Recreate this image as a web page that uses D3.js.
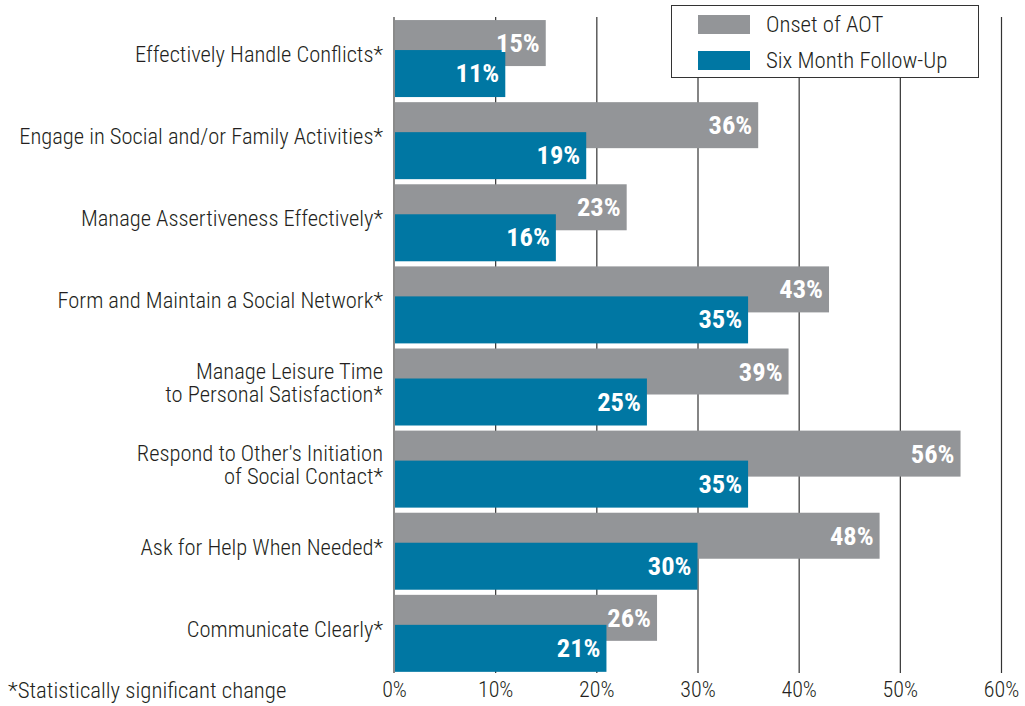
<!DOCTYPE html>
<html><head><meta charset="utf-8">
<script src="https://cdn.jsdelivr.net/npm/d3@7"></script>
<style>
body{margin:0;background:#fff;}
svg text{font-family:"Roboto Condensed","Liberation Sans Narrow","DejaVu Sans Condensed",sans-serif;}
</style></head><body>
<svg id="c" width="1025" height="706"></svg>
<script>
const categories = [
  ["Effectively Handle Conflicts*"],
  ["Engage in Social and/or Family Activities*"],
  ["Manage Assertiveness Effectively*"],
  ["Form and Maintain a Social Network*"],
  ["Manage Leisure Time", "to Personal Satisfaction*"],
  ["Respond to Other's Initiation", "of Social Contact*"],
  ["Ask for Help When Needed*"],
  ["Communicate Clearly*"]
];
const onsetValues = [15, 36, 23, 43, 39, 56, 48, 26];
const followUpValues = [11, 19, 16, 35, 25, 35, 30, 21];
const seriesNames = ["Onset of AOT", "Six Month Follow-Up"];
const tickValues = [0, 10, 20, 30, 40, 50, 60];
const footnote = "*Statistically significant change";

const GRAY = "#939598", BLUE = "#0077a3", TXT = "#231f20";
const FONT = '"Roboto Condensed","Liberation Sans Narrow","DejaVu Sans Condensed",sans-serif';
const svg = d3.select("#c");
const x = d3.scaleLinear().domain([0, 60]).range([394, 1001]);
const keys = categories.map((c, i) => i);
const y = d3.scaleBand().domain(keys).range([18, 18 + 82 * 8]).paddingInner(5 / 82).paddingOuter(0.025);

// gridlines via axis
const grid = svg.append("g").attr("transform", "translate(0,17)")
  .call(d3.axisBottom(x).tickValues(tickValues.slice(1)).tickSize(656).tickFormat(""));
grid.select(".domain").remove();
grid.selectAll(".tick line").attr("stroke", "#333").attr("stroke-width", 1.2);

// bars
const rows = svg.append("g").selectAll("g").data(keys).join("g");
rows.append("rect").attr("x", x(0)).attr("y", i => y(i))
  .attr("width", i => x(onsetValues[i]) - x(0)).attr("height", 46).attr("fill", GRAY);
rows.append("rect").attr("x", x(0)).attr("y", i => y(i) + 30)
  .attr("width", i => x(followUpValues[i]) - x(0)).attr("height", 47).attr("fill", BLUE);

// zero axis line
svg.append("line").attr("x1", x(0)).attr("x2", x(0)).attr("y1", 17).attr("y2", 673)
  .attr("stroke", "#8a8a8a").attr("stroke-width", 2);

// value labels
rows.append("text").attr("x", i => x(onsetValues[i]) - 6).attr("y", i => y(i) + 32)
  .attr("text-anchor", "end").attr("fill", "#fff").attr("font-weight", "bold").attr("font-size", 26.5)
  .text(i => onsetValues[i] + "%");
rows.append("text").attr("x", i => x(followUpValues[i]) - 6).attr("y", i => y(i) + 62)
  .attr("text-anchor", "end").attr("fill", "#fff").attr("font-weight", "bold").attr("font-size", 26.5)
  .text(i => followUpValues[i] + "%");

// category labels
rows.append("text").attr("text-anchor", "end").attr("fill", TXT).attr("font-size", 22.5).attr("font-weight", 300)
  .attr("transform", i => `translate(383,${y(i) + 34 - (categories[i].length - 1) * 11.5})`)
  .selectAll("tspan").data(i => categories[i]).join("tspan")
  .attr("x", 0).attr("dy", (d, j) => j === 0 ? "0.35em" : 23).text(d => d);

// x axis tick labels
const ax = svg.append("g").attr("transform", "translate(0,673)")
  .call(d3.axisBottom(x).tickValues(tickValues).tickSize(0).tickPadding(8).tickFormat(d => d + "%"));
ax.select(".domain").remove();
ax.selectAll("text").attr("font-size", 22).attr("fill", TXT).attr("font-weight", 300)
  .attr("font-family", FONT);

svg.append("text").attr("x", 8).attr("y", 698).attr("font-size", 22.8).attr("font-weight", 300).attr("fill", TXT).text(footnote);

// legend
const lg = svg.append("g");
lg.append("rect").attr("x", 671.5).attr("y", 5.5).attr("width", 307).attr("height", 72)
  .attr("fill", "#fff").attr("stroke", "#333").attr("stroke-width", 1);
const colors = [GRAY, BLUE];
seriesNames.forEach((s, i) => {
  lg.append("rect").attr("x", 698).attr("y", 15 + i * 36).attr("width", 52).attr("height", 19).attr("fill", colors[i]);
  lg.append("text").attr("x", 766).attr("y", 32 + i * 36).attr("font-size", 22.8).attr("font-weight", 300).attr("fill", TXT).text(s);
});
</script></body></html>
